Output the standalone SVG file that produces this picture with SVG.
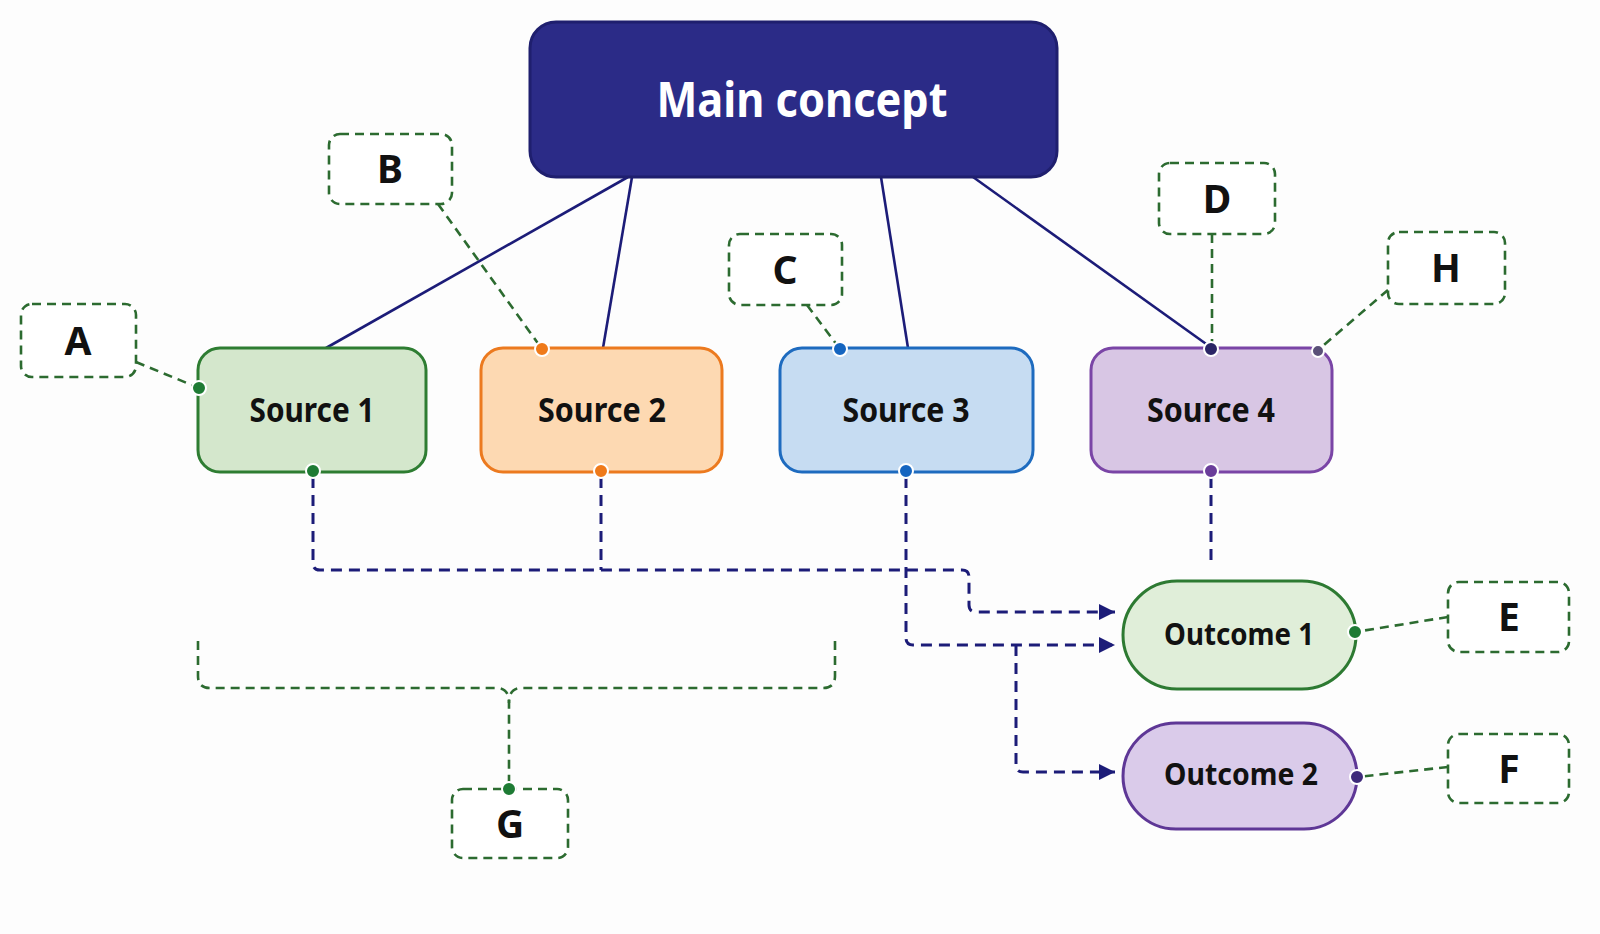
<svg xmlns="http://www.w3.org/2000/svg" width="1600" height="934" viewBox="0 0 1600 934">
<defs>
<marker id="arr" markerUnits="userSpaceOnUse" markerWidth="18" markerHeight="18" refX="16" refY="8" orient="auto">
<path d="M0,0 L16,8 L0,16 Z" fill="#1c1c78"/>
</marker>
</defs>
<style>
.solid{fill:none;stroke:#1c1c78;stroke-width:2.6}
.navyd{fill:none;stroke:#1c1c78;stroke-width:3;stroke-dasharray:11 7}
.greend{fill:none;stroke:#2c6b30;stroke-width:2.6;stroke-dasharray:9 6}
.lbl{fill:#ffffff;stroke:#2c6b30;stroke-width:2.6;stroke-dasharray:9 6}
.t{font-family:"Noto Sans","Liberation Sans",sans-serif;font-weight:700;fill:#111111;text-anchor:middle}
.dot{stroke:#ffffff;stroke-width:2}
</style>
<rect width="1600" height="934" fill="#fdfdfd"/>
<g id="connectors">
<path class="solid" d="M628,177 L326,348"/>
<path class="solid" d="M632,177 L603,348"/>
<path class="solid" d="M881,177 L908,348"/>
<path class="solid" d="M973,177 L1209,346"/>
<path class="navyd" d="M313,477 V563 Q313,570 320,570 H962 Q969,570 969,577 V605 Q969,612 976,612 H1115" marker-end="url(#arr)"/>
<path class="navyd" d="M601,477 V570"/>
<path class="navyd" d="M906,477 V638 Q906,645 913,645 H1115" marker-end="url(#arr)"/>
<path class="navyd" d="M1016,645 V765 Q1016,772 1023,772 H1115" marker-end="url(#arr)"/>
<path class="navyd" d="M1211,477 V562"/>
<path class="greend" d="M136,362 L199,388"/>
<path class="greend" d="M438,204 L542,349"/>
<path class="greend" d="M807,305 L840,349"/>
<path class="greend" d="M1212,234 V349"/>
<path class="greend" d="M1388,290 L1318,350"/>
<path class="greend" d="M1448,617 L1355,632"/>
<path class="greend" d="M1448,767 L1357,777"/>
<path class="greend" d="M198,641 V676 Q198,688 210,688 H497 Q509,688 509,703 V789"/>
<path class="greend" d="M835,641 V676 Q835,688 823,688 H521 Q509,688 509,703"/>
</g>
<g id="main">
<rect x="530" y="22" width="527" height="155" rx="26" fill="#2b2b87" stroke="#1f1f6e" stroke-width="3"/>
<text class="t" x="802" y="117" font-size="48" fill="#ffffff" style="fill:#ffffff" textLength="291" lengthAdjust="spacingAndGlyphs">Main concept</text>
</g>
<g id="source1">
<rect x="198" y="348" width="228" height="124" rx="22" fill="#d4e7cc" stroke="#2e7d32" stroke-width="3"/>
<text class="t" x="312" y="422" font-size="34" textLength="125" lengthAdjust="spacingAndGlyphs">Source 1</text>
</g>
<g id="source2">
<rect x="481" y="348" width="241" height="124" rx="22" fill="#fdd9b2" stroke="#ec7a1f" stroke-width="3"/>
<text class="t" x="602" y="422" font-size="34" textLength="128" lengthAdjust="spacingAndGlyphs">Source 2</text>
</g>
<g id="source3">
<rect x="780" y="348" width="253" height="124" rx="22" fill="#c6dcf2" stroke="#1e6bbf" stroke-width="3"/>
<text class="t" x="906" y="422" font-size="34" textLength="127" lengthAdjust="spacingAndGlyphs">Source 3</text>
</g>
<g id="source4">
<rect x="1091" y="348" width="241" height="124" rx="22" fill="#d8c6e4" stroke="#7a45a6" stroke-width="3"/>
<text class="t" x="1211" y="422" font-size="34" textLength="128" lengthAdjust="spacingAndGlyphs">Source 4</text>
</g>
<g id="outcome1">
<rect x="1123" y="581" width="233" height="108" rx="54" fill="#e0eed9" stroke="#2d7a32" stroke-width="3"/>
<text class="t" x="1239" y="645" font-size="31" textLength="150" lengthAdjust="spacingAndGlyphs">Outcome 1</text>
</g>
<g id="outcome2">
<rect x="1123" y="723" width="234" height="106" rx="53" fill="#dacbea" stroke="#5e3796" stroke-width="3"/>
<text class="t" x="1241" y="785" font-size="31" textLength="154" lengthAdjust="spacingAndGlyphs">Outcome 2</text>
</g>
<g id="labelA"><rect class="lbl" x="21" y="304" width="115" height="73" rx="11"/><text class="t" x="78" y="355" font-size="39">A</text></g>
<g id="labelB"><rect class="lbl" x="329" y="134" width="123" height="70" rx="11"/><text class="t" x="390" y="183" font-size="39">B</text></g>
<g id="labelC"><rect class="lbl" x="729" y="234" width="113" height="71" rx="11"/><text class="t" x="785" y="284" font-size="39">C</text></g>
<g id="labelD"><rect class="lbl" x="1159" y="163" width="116" height="71" rx="11"/><text class="t" x="1217" y="213" font-size="39">D</text></g>
<g id="labelH"><rect class="lbl" x="1388" y="232" width="117" height="72" rx="11"/><text class="t" x="1446" y="282" font-size="39">H</text></g>
<g id="labelE"><rect class="lbl" x="1448" y="582" width="121" height="70" rx="11"/><text class="t" x="1509" y="631" font-size="39">E</text></g>
<g id="labelF"><rect class="lbl" x="1448" y="734" width="121" height="69" rx="11"/><text class="t" x="1509" y="783" font-size="39">F</text></g>
<g id="labelG"><rect class="lbl" x="452" y="789" width="116" height="69" rx="11"/><text class="t" x="510" y="838" font-size="39">G</text></g>
<g id="dots">
<circle class="dot" cx="199" cy="388" r="7" fill="#1e7b34"/>
<circle class="dot" cx="542" cy="349" r="7" fill="#ef7a1a"/>
<circle class="dot" cx="840" cy="349" r="7" fill="#1565c0"/>
<circle class="dot" cx="1211" cy="349" r="7" fill="#2b2566"/>
<circle class="dot" cx="1318" cy="351" r="6" fill="#5a5078"/>
<circle class="dot" cx="313" cy="471" r="7" fill="#1e7b34"/>
<circle class="dot" cx="601" cy="471" r="7" fill="#ef7a1a"/>
<circle class="dot" cx="906" cy="471" r="7" fill="#1565c0"/>
<circle class="dot" cx="1211" cy="471" r="7" fill="#6a3d9a"/>
<circle class="dot" cx="1355" cy="632" r="7" fill="#1e7b34"/>
<circle class="dot" cx="1357" cy="777" r="7" fill="#3e2a7a"/>
<circle class="dot" cx="509" cy="789" r="7" fill="#1e7b34"/>
</g>
</svg>
